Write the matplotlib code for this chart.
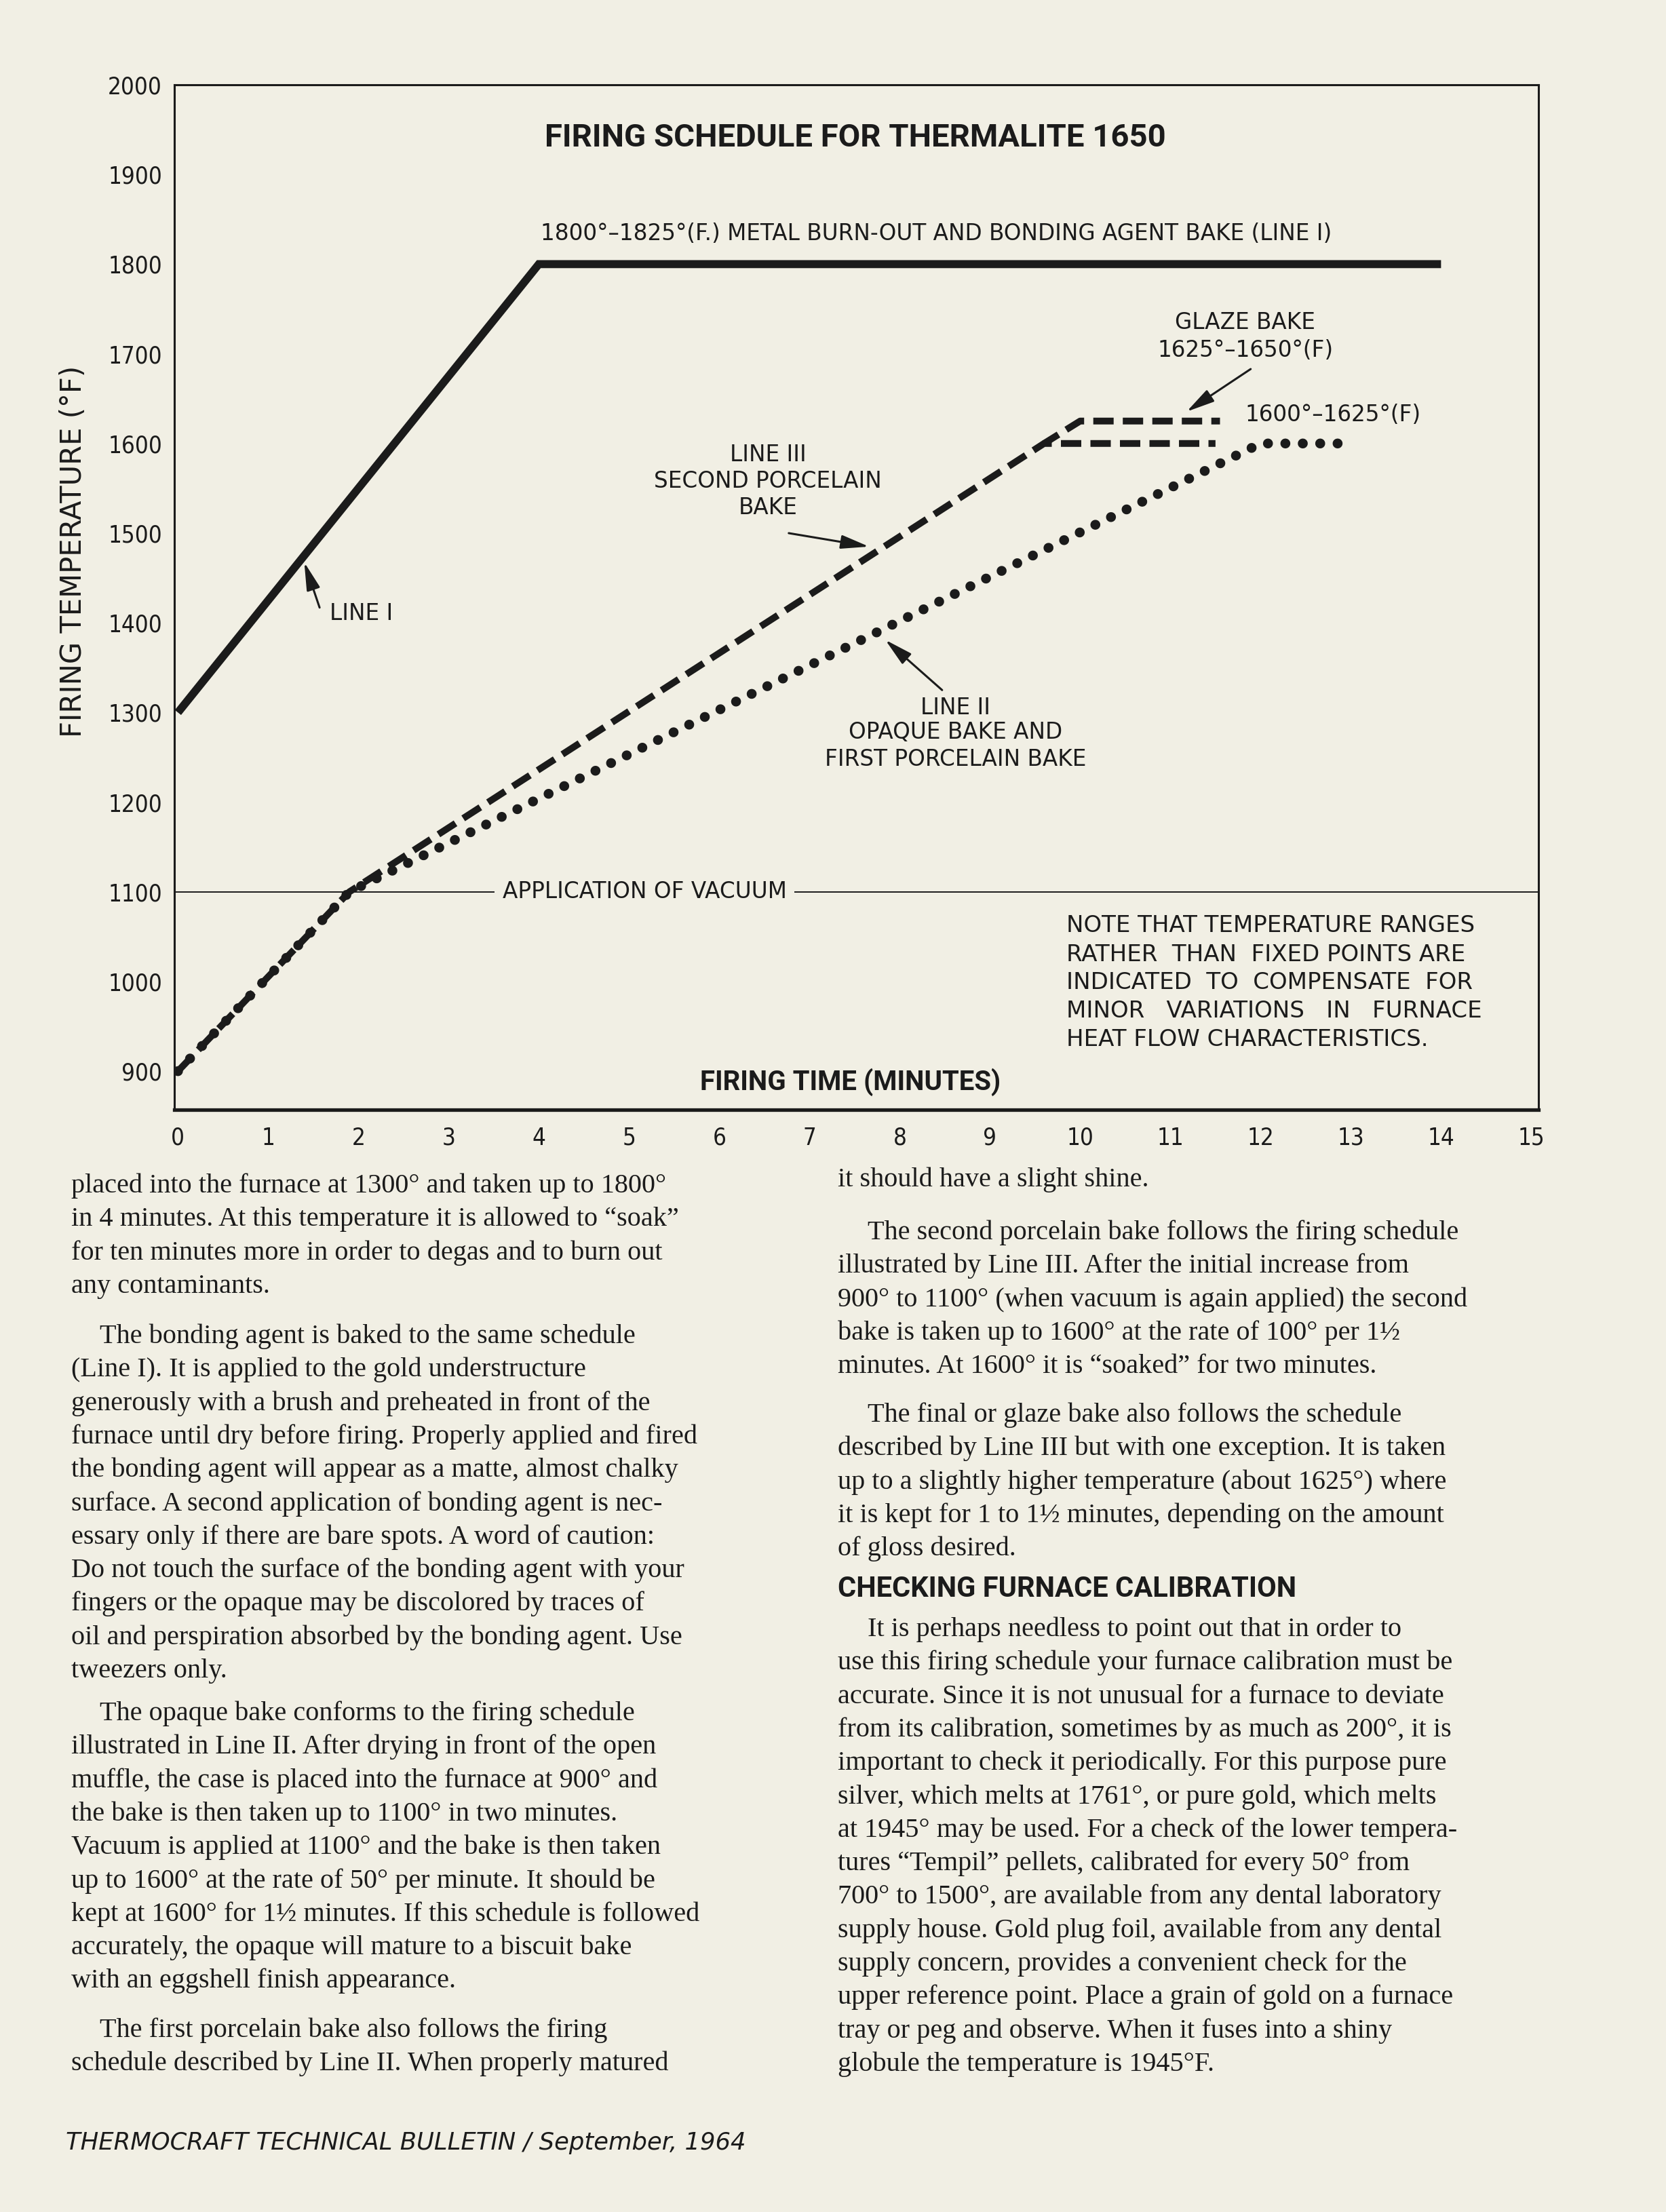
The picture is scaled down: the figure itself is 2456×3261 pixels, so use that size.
import matplotlib.pyplot as plt

# ---- chart data: firing schedules (minutes, deg F) ----
line1_time = [0, 4, 14]
line1_temp = [1300, 1800, 1800]

line2_time = [0, 1.9, 12.0, 13.0]
line2_temp = [900, 1100, 1600, 1600]

line3_time = [0, 1.9, 9.6, 11.5]
line3_temp = [900, 1100, 1600, 1600]

glaze_time = [9.6, 10.0, 11.55]
glaze_temp = [1600, 1625, 1625]

vacuum_temp = 1100

x_ticks = list(range(0, 16))
y_ticks = list(range(900, 2001, 100))

note_lines = ["NOTE THAT TEMPERATURE RANGES",
              "RATHER  THAN  FIXED POINTS ARE",
              "INDICATED  TO  COMPENSATE  FOR",
              "MINOR   VARIATIONS   IN   FURNACE",
              "HEAT FLOW CHARACTERISTICS."]

# ---- page text ----
left_a = ["placed into the furnace at 1300° and taken up to 1800°",
          "in 4 minutes. At this temperature it is allowed to “soak”",
          "for ten minutes more in order to degas and to burn out",
          "any contaminants."]
left_b = ["The bonding agent is baked to the same schedule",
          "(Line I). It is applied to the gold understructure",
          "generously with a brush and preheated in front of the",
          "furnace until dry before firing. Properly applied and fired",
          "the bonding agent will appear as a matte, almost chalky",
          "surface. A second application of bonding agent is nec-",
          "essary only if there are bare spots. A word of caution:",
          "Do not touch the surface of the bonding agent with your",
          "fingers or the opaque may be discolored by traces of",
          "oil and perspiration absorbed by the bonding agent. Use",
          "tweezers only."]
left_c = ["The opaque bake conforms to the firing schedule",
          "illustrated in Line II. After drying in front of the open",
          "muffle, the case is placed into the furnace at 900° and",
          "the bake is then taken up to 1100° in two minutes.",
          "Vacuum is applied at 1100° and the bake is then taken",
          "up to 1600° at the rate of 50° per minute. It should be",
          "kept at 1600° for 1½ minutes. If this schedule is followed",
          "accurately, the opaque will mature to a biscuit bake",
          "with an eggshell finish appearance."]
left_d = ["The first porcelain bake also follows the firing",
          "schedule described by Line II. When properly matured"]

right_a = ["it should have a slight shine."]
right_b = ["The second porcelain bake follows the firing schedule",
           "illustrated by Line III. After the initial increase from",
           "900° to 1100° (when vacuum is again applied) the second",
           "bake is taken up to 1600° at the rate of 100° per 1½",
           "minutes. At 1600° it is “soaked” for two minutes."]
right_c = ["The final or glaze bake also follows the schedule",
           "described by Line III but with one exception. It is taken",
           "up to a slightly higher temperature (about 1625°) where",
           "it is kept for 1 to 1½ minutes, depending on the amount",
           "of gloss desired."]
right_d = ["It is perhaps needless to point out that in order to",
           "use this firing schedule your furnace calibration must be",
           "accurate. Since it is not unusual for a furnace to deviate",
           "from its calibration, sometimes by as much as 200°, it is",
           "important to check it periodically. For this purpose pure",
           "silver, which melts at 1761°, or pure gold, which melts",
           "at 1945° may be used. For a check of the lower tempera-",
           "tures “Tempil” pellets, calibrated for every 50° from",
           "700° to 1500°, are available from any dental laboratory",
           "supply house. Gold plug foil, available from any dental",
           "supply concern, provides a convenient check for the",
           "upper reference point. Place a grain of gold on a furnace",
           "tray or peg and observe. When it fuses into a shiny",
           "globule the temperature is 1945°F."]

PAPER = '#f1efe4'
INK = '#1b1b1b'
W, H = 2456, 3261


def fx(px):
    return px / W


def fy(py):
    return 1 - py / H


fig = plt.figure(figsize=(W / 100, H / 100), dpi=100, facecolor=PAPER)
ax = fig.add_axes([fx(257), fy(1636), fx(2268) - fx(257), fy(125) - fy(1636)])
ax.set_facecolor(PAPER)
ax.set_xlim(-0.04, 15.08)
ax.set_ylim(857, 2000)

# vacuum line
ax.axhline(vacuum_temp, color=INK, lw=1.4, zorder=1)

# schedules
ax.plot(line1_time, line1_temp, color=INK, lw=8.5, solid_capstyle='butt',
        solid_joinstyle='miter', zorder=4)
ax.plot(line2_time, line2_temp, color=INK, lw=10.5, linestyle=(0, (0.01, 1.75)),
        dash_capstyle='round', zorder=4)
ax.plot(line3_time, line3_temp, color=INK, lw=7.2, linestyle=(0, (3.0, 1.35)),
        dash_capstyle='butt', zorder=4)
ax.plot(glaze_time, glaze_temp, color=INK, lw=7.2, linestyle=(0.5, (3.0, 1.35)),
        dash_capstyle='butt', zorder=4)

# axes frame and ticks
for side in ['left', 'top', 'right']:
    ax.spines[side].set_linewidth(2.2)
    ax.spines[side].set_color(INK)
ax.spines['bottom'].set_linewidth(3.8)
ax.spines['bottom'].set_color(INK)
ax.set_xticks(x_ticks)
ax.set_yticks(y_ticks)
ax.tick_params(length=0, labelsize=25, colors=INK)
ax.tick_params(axis='x', pad=18)
ax.tick_params(axis='y', pad=13)
for lbl in ax.get_xticklabels() + ax.get_yticklabels():
    lbl.set_fontstretch('condensed')

ax.set_ylabel('FIRING TEMPERATURE (°F)', fontsize=30, color=INK)
ax.yaxis.set_label_coords((129 - 257) / (2268 - 257), (1636 - 813) / (1636 - 125))

# chart texts
ax.text(7.51, 1941, 'FIRING SCHEDULE FOR THERMALITE 1650', family='Roboto',
        weight='bold', fontsize=34, color=INK, ha='center', va='center')
ax.text(7.45, 888, 'FIRING TIME (MINUTES)', family='Roboto', weight='bold',
        fontsize=29, color=INK, ha='center', va='center')

ann = dict(fontsize=23.5, color=INK, family='DejaVu Sans')
ax.text(4.02, 1834, '1800°–1825°(F.) METAL BURN-OUT AND BONDING AGENT BAKE (LINE I)',
        ha='left', va='center', **ann)
ax.text(11.83, 1735, 'GLAZE BAKE', ha='center', va='center', **ann)
ax.text(11.83, 1704, '1625°–1650°(F)', ha='center', va='center', **ann)
ax.text(11.83, 1632, '1600°–1625°(F)', ha='left', va='center', **ann)
ax.text(6.54, 1587, 'LINE III', ha='center', va='center', **ann)
ax.text(6.54, 1557.5, 'SECOND PORCELAIN', ha='center', va='center', **ann)
ax.text(6.54, 1528, 'BAKE', ha='center', va='center', **ann)
ax.text(1.68, 1410, 'LINE I', ha='left', va='center', **ann)
ax.text(8.62, 1305, 'LINE II', ha='center', va='center', **ann)
ax.text(8.62, 1278, 'OPAQUE BAKE AND', ha='center', va='center', **ann)
ax.text(8.62, 1248, 'FIRST PORCELAIN BAKE', ha='center', va='center', **ann)
ax.text(5.17, vacuum_temp, 'APPLICATION OF VACUUM', ha='center', va='center', zorder=2,
        bbox=dict(boxstyle='square,pad=0.35', fc=PAPER, ec='none'), **ann)

note_y = [1062, 1029.5, 999, 967, 935]
for txt, yy in zip(note_lines, note_y):
    ax.text(9.85, yy, txt, ha='left', va='center', fontsize=24.5, color=INK,
            family='DejaVu Sans')

arrow = dict(arrowstyle='-|>,head_length=0.9,head_width=0.22', color=INK, lw=2.2,
             shrinkA=0, shrinkB=0, mutation_scale=28)
ax.annotate('', xy=(11.18, 1635.5), xytext=(11.89, 1683), arrowprops=arrow)
ax.annotate('', xy=(7.66, 1485), xytext=(6.77, 1500), arrowprops=arrow)
ax.annotate('', xy=(1.40, 1467.5), xytext=(1.57, 1417), arrowprops=arrow)
ax.annotate('', xy=(7.84, 1381), xytext=(8.47, 1325), arrowprops=arrow)

# ---- body text ----
STEP = 49.3
body = dict(family='Liberation Serif', fontsize=29, color=INK, va='baseline')


def paragraph(lines, x, y_first, indent):
    for i, line in enumerate(lines):
        xx = x + (indent if i == 0 else 0)
        fig.text(fx(xx), fy(y_first + i * STEP + 12), line, **body)


paragraph(left_a, 105, 1746, 0)
paragraph(left_b, 105, 1968, 42)
paragraph(left_c, 105, 2524, 42)
paragraph(left_d, 105, 2991, 42)

paragraph(right_a, 1235, 1737, 0)
paragraph(right_b, 1235, 1815, 44)
paragraph(right_c, 1235, 2084, 44)
fig.text(fx(1235), fy(2342), 'CHECKING FURNACE CALIBRATION', family='Roboto',
         weight='bold', fontsize=30, color=INK, va='center')
paragraph(right_d, 1235, 2400, 44)

fig.text(fx(97), fy(3159), 'THERMOCRAFT TECHNICAL BULLETIN / September, 1964',
         family='DejaVu Sans', style='italic', fontsize=25.5, color=INK, va='center')

fig.savefig('out.png', dpi=100, facecolor=fig.get_facecolor())
